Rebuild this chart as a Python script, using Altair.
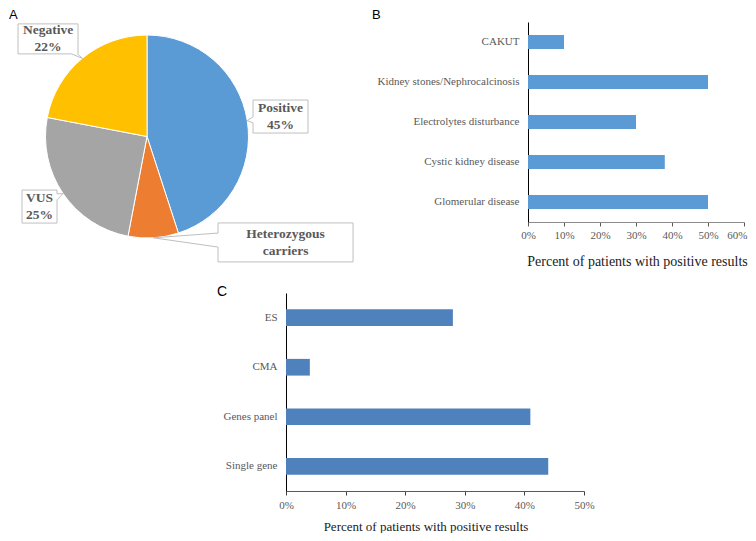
import math
import altair as alt
import pandas as pd

# ---------------- data ----------------
# Panel A (pie)
pie_labels = ["Positive", "Heterozygous carriers", "VUS", "Negative"]
pie_values = [45, 8, 25, 22]
pie_colors = ["#5B9BD5", "#ED7D31", "#A5A5A5", "#FFC000"]
pie_show_pct = [True, False, True, True]

# Panel B
b_categories = ["CAKUT", "Kidney stones/Nephrocalcinosis", "Electrolytes disturbance",
                "Cystic kidney disease", "Glomerular disease"]
b_values = [10, 50, 30, 38, 50]
b_ticks = [0, 10, 20, 30, 40, 50, 60]

# Panel C
c_categories = ["ES", "CMA", "Genes panel", "Single gene"]
c_values = [28, 4, 41, 44]
c_ticks = [0, 10, 20, 30, 40, 50]

x_title = "Percent of patients with positive results"
panel_letters = ["A", "B", "C"]

# ---------------- style ----------------
SERIF = "Liberation Serif"
SANS = "Liberation Sans"
LABEL_GRAY = "#595959"

PIE_W, PIE_H = 278, 257
CX, CY = PIE_W / 2, PIE_H / 2
R = 101.5
LINE_H = 17
# label placement style: radius, angle shift from slice middle, box size, pointer half width
LABEL_STYLE = {
    "Positive": dict(r=135, dt=0.5, w=55, h=33, hw=3),
    "Heterozygous carriers": dict(r=174.4, dt=-49, w=135, h=39, hw=7),
    "VUS": dict(r=128.3, dt=1.1, w=35, h=33, hw=3),
    "Negative": dict(r=139, dt=-5.8, w=60, h=30, hw=3),
}

B_W, B_H = 216, 214
B_RANGE = [14, 214]
C_W, C_H = 278, 218
C_XRANGE = [278, 576]
C_YRANGE = [20, 218]


def letter(ch, x, y, size):
    return alt.Chart(pd.DataFrame({"panel": [ch]})).mark_text(
        font=SANS, fontSize=size, fontWeight="normal", color="black",
        align="left", baseline="top"
    ).encode(text="panel:N", x=alt.value(x), y=alt.value(y))


# ---------------- panel A ----------------
pie_df = pd.DataFrame({"label": pie_labels, "value": pie_values,
                       "idx": list(range(len(pie_labels)))})
total = sum(pie_values)

lab_rows, rule_rows, base_rows = [], [], []
cum = 0.0
for name, v, show in zip(pie_labels, pie_values, pie_show_pct):
    mid = (cum + v / 2) / total * 360.0
    cum += v
    st = LABEL_STYLE[name]
    a = math.radians(mid + st["dt"])
    lx = CX + st["r"] * math.sin(a)
    ly = CY - st["r"] * math.cos(a)
    am = math.radians(mid)
    tx = CX + R * math.sin(am)
    ty = CY - R * math.cos(am)
    if show:
        txt = f"{name}\n{round(v / total * 100)}%"
    else:
        txt = "\n".join(name.split(" "))
    w, h = st["w"], st["h"]
    lab_rows.append(dict(label=name, lx=lx, ly=ly, ty0=ly - LINE_H / 2, txt=txt,
                         x1=lx - w / 2, x2=lx + w / 2, y1=ly - h / 2, y2=ly + h / 2))
    dx, dy = tx - lx, ty - ly
    tX = (w / 2) / abs(dx) if dx != 0 else float("inf")
    tY = (h / 2) / abs(dy) if dy != 0 else float("inf")
    t = min(tX, tY)
    px, py = lx + t * dx, ly + t * dy
    hw = st["hw"]
    if tX < tY:
        b1 = (px, max(ly - h / 2, py - hw)); b2 = (px, min(ly + h / 2, py + hw))
    else:
        b1 = (max(lx - w / 2, px - hw), py); b2 = (min(lx + w / 2, px + hw), py)
    for b in (b1, b2):
        rule_rows.append(dict(label=name, bx=b[0], by=b[1], tx=tx, ty=ty))
    base_rows.append(dict(label=name, bx=b1[0], by=b1[1], ex=b2[0], ey=b2[1]))

lab_df = pd.DataFrame(lab_rows)
rule_df = pd.DataFrame(rule_rows)
base_df = pd.DataFrame(base_rows)

arcs = alt.Chart(pie_df).mark_arc(outerRadius=R, stroke="white", strokeWidth=1).encode(
    theta=alt.Theta("value:Q", stack=True),
    order=alt.Order("idx:Q"),
    color=alt.Color("label:N", scale=alt.Scale(domain=pie_labels, range=pie_colors), legend=None),
)

boxes = alt.Chart(lab_df).mark_rect(fill="white", stroke="#BFBFBF", strokeWidth=1).encode(
    x=alt.X("x1:Q", scale=None, axis=None), x2="x2:Q",
    y=alt.Y("y1:Q", scale=None, axis=None), y2="y2:Q",
)
bases = alt.Chart(base_df).mark_rule(color="white", strokeWidth=2).encode(
    x=alt.X("bx:Q", scale=None, axis=None), x2="ex:Q",
    y=alt.Y("by:Q", scale=None, axis=None), y2="ey:Q",
)
pointers = alt.Chart(rule_df).mark_rule(color="#BFBFBF", strokeWidth=1).encode(
    x=alt.X("bx:Q", scale=None, axis=None), x2="tx:Q",
    y=alt.Y("by:Q", scale=None, axis=None), y2="ty:Q",
)
texts = alt.Chart(lab_df).mark_text(
    font=SERIF, fontWeight="bold", fontSize=13.5, color=LABEL_GRAY,
    lineBreak="\n", lineHeight=LINE_H, align="center", baseline="middle",
).encode(
    x=alt.X("lx:Q", scale=None, axis=None),
    y=alt.Y("ty0:Q", scale=None, axis=None),
    text="txt:N",
)

pie = alt.layer(arcs, boxes, bases, pointers, texts,
                letter(panel_letters[0], 1, 1, 13)).properties(width=PIE_W, height=PIE_H)

# ---------------- panel B ----------------
b_df = pd.DataFrame({"cat": b_categories, "val": b_values})
b_bars = alt.Chart(b_df).mark_bar(color="#5B9BD5").encode(
    y=alt.Y("cat:N", sort=b_categories,
            scale=alt.Scale(range=B_RANGE, paddingInner=0.65, paddingOuter=0.325),
            axis=alt.Axis(title=None, domainColor="#000000", ticks=False, labelPadding=9,
                          labelFont=SERIF, labelFontSize=11, labelColor=LABEL_GRAY, labelLimit=0)),
    x=alt.X("val:Q", scale=alt.Scale(domain=[0, 60], nice=False),
            axis=alt.Axis(values=b_ticks, labelExpr="datum.value + '%'", grid=False,
                          labelFlush=False,
                          labelAlign={"condition": {"test": "datum.value == 60", "value": "right"},
                                      "value": "center"},
                          labelOffset={"condition": {"test": "datum.value == 60", "value": 3},
                                       "value": 0},
                          domainColor="#8C8C8C", tickColor="#595959", tickSize=4, labelPadding=3,
                          labelFont=SERIF, labelFontSize=11, labelColor=LABEL_GRAY,
                          title=x_title, titleFont=SERIF, titleFontSize=14, titleFontWeight="normal",
                          titleColor="#1a1a1a", titlePadding=14, titleX=109)),
)
b_chart = alt.layer(b_bars, letter(panel_letters[1], -156, 1, 13)).properties(width=B_W, height=B_H)

# ---------------- panel C ----------------
c_df = pd.DataFrame({"cat": c_categories, "val": c_values})
c_bars = alt.Chart(c_df).mark_bar(color="#4F81BD").encode(
    y=alt.Y("cat:N", sort=c_categories,
            scale=alt.Scale(range=C_YRANGE, paddingInner=0.663, paddingOuter=0.33),
            axis=alt.Axis(title=None, domainColor="#000000", ticks=False, labelPadding=9,
                          offset=-C_XRANGE[0],
                          labelFont=SERIF, labelFontSize=11, labelColor=LABEL_GRAY, labelLimit=0)),
    x=alt.X("val:Q", scale=alt.Scale(domain=[0, 50], range=C_XRANGE, nice=False),
            axis=alt.Axis(values=c_ticks, labelExpr="datum.value + '%'", grid=False,
                          labelFlush=False,
                          domainColor="#595959", tickColor="#404040", tickSize=4, labelPadding=4,
                          labelFont=SERIF, labelFontSize=11, labelColor=LABEL_GRAY,
                          title=x_title, titleFont=SERIF, titleFontSize=13, titleFontWeight="normal",
                          titleColor="#1a1a1a", titlePadding=10, titleX=417.5)),
)
c_chart = alt.layer(c_bars, letter(panel_letters[2], 209, 12, 14)).properties(width=C_W, height=C_H)

chart = alt.concat(
    pie, b_chart, c_chart, columns=2,
    spacing={"row": 8, "column": 242}, bounds="flush", align="each",
).properties(
    padding=0, background="white"
).configure_view(stroke=None)

chart.save("out.html", embed_options={"renderer": "svg", "actions": False})
